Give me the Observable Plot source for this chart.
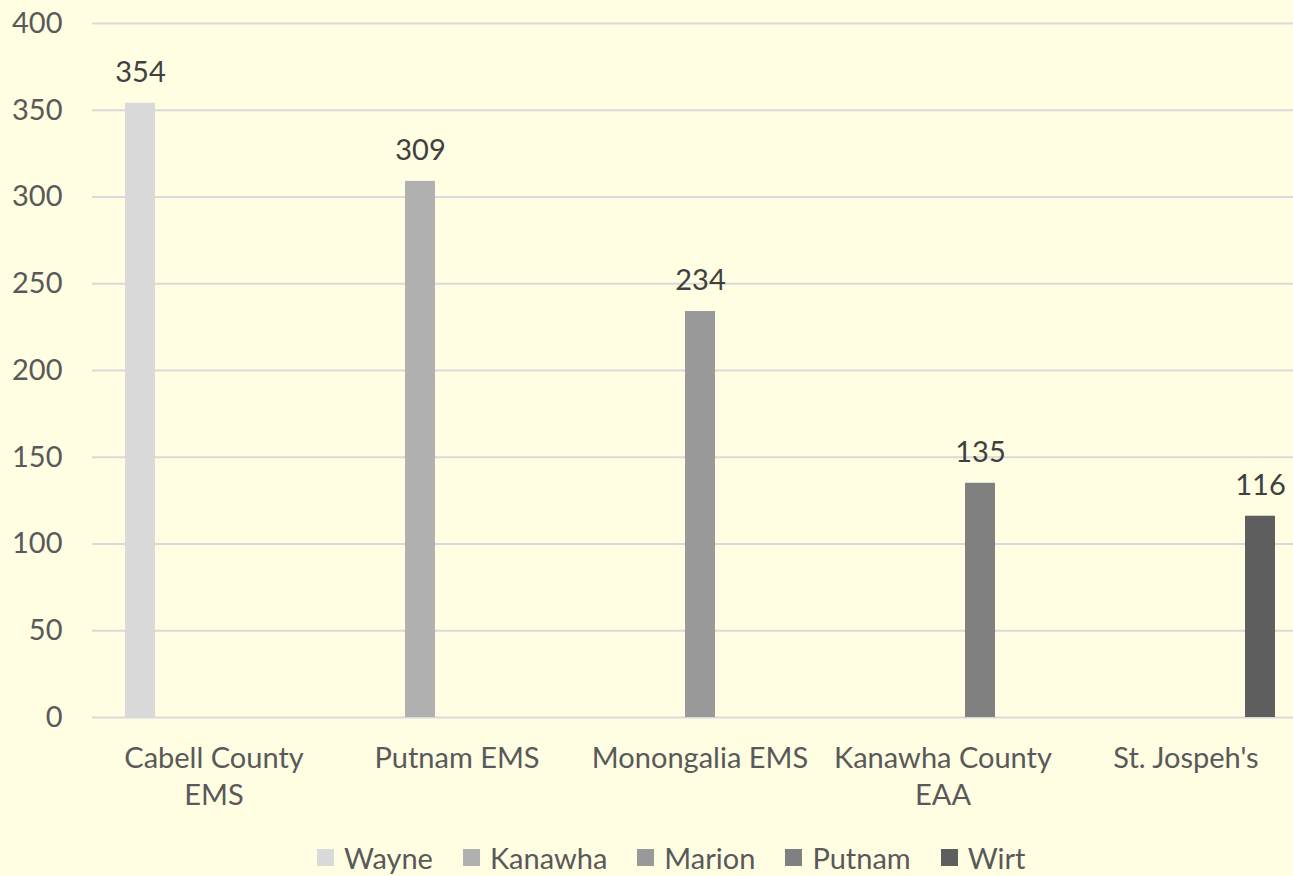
<!DOCTYPE html>
<html><head><meta charset="utf-8">
<script src="https://cdn.jsdelivr.net/npm/d3@7"></script>
<script src="https://cdn.jsdelivr.net/npm/@observablehq/plot@0.6"></script>
<style>
html,body{margin:0;padding:0;background:#FFFDE2;overflow:hidden;width:1293px;height:876px}
#wrap{position:relative;width:1293px;height:876px;overflow:hidden;background:#FFFDE2}
#chart{position:absolute;left:0;top:0;width:1308px}
#chart svg{max-width:none !important;width:1308px;height:838px}
#legend{position:absolute;left:317px;top:838px;height:38px;display:flex;align-items:center;font-family:Lato,sans-serif;font-size:29px;color:#595959;white-space:nowrap}
.item{display:flex;align-items:center;margin-right:30px}
.sw{width:17px;height:17px;margin-right:10px}
</style></head><body><div id="wrap"><div id="chart"></div><div id="legend"></div></div>
<script>
const categories = ["Cabell County\nEMS", "Putnam EMS", "Monongalia EMS", "Kanawha County\nEAA", "St. Jospeh's"];
const seriesNames = ["Wayne", "Kanawha", "Marion", "Putnam", "Wirt"];
const seriesColors = ["#D9D9D9", "#B0B0B0", "#999999", "#808080", "#5E5E5E"];
const values = [354, 309, 234, 135, 116];
const valueSeries = ["Wayne", "Kanawha", "Marion", "Putnam", "Wirt"];
const yTicks = [0, 50, 100, 150, 200, 250, 300, 350, 400];

const data = categories.map((c, i) => ({category: c, series: valueSeries[i], value: values[i]}));

const chart = Plot.plot({
  width: 1308, height: 838,
  marginLeft: 90, marginRight: 0, marginTop: 23, marginBottom: 121,
  style: {background: "transparent", fontFamily: "Lato, sans-serif", maxWidth: "none"},
  fx: {domain: categories, padding: 0, label: null},
  x: {domain: seriesNames, paddingInner: 0.194, paddingOuter: 0.87, axis: null},
  y: {domain: [0, 400], ticks: yTicks, label: null},
  color: {domain: seriesNames, range: seriesColors},
  marks: [
    Plot.gridY(yTicks, {stroke: "#D9D9D9", strokeOpacity: 1, strokeWidth: 2}),
    Plot.axisY(yTicks, {tickSize: 0, tickPadding: 30, fontSize: 29, fill: "#595959", label: null}),
    Plot.axisFx({anchor: "bottom", tickSize: 0, tickPadding: 24, fontSize: 29, lineHeight: 1.28, fill: "#595959", label: null}),
    Plot.barY(data, {fx: "category", x: "series", y: "value", fill: "series"}),
    Plot.text(data, {fx: "category", x: "series", y: "value", text: d => String(d.value), dy: -31, fontSize: 29, fill: "#404040"})
  ]
});
document.getElementById("chart").appendChild(chart);

const legend = d3.select("#legend");
seriesNames.forEach((s, i) => {
  const it = legend.append("div").attr("class", "item");
  it.append("div").attr("class", "sw").style("background", seriesColors[i]);
  it.append("span").text(s);
});
</script>
</body></html>
